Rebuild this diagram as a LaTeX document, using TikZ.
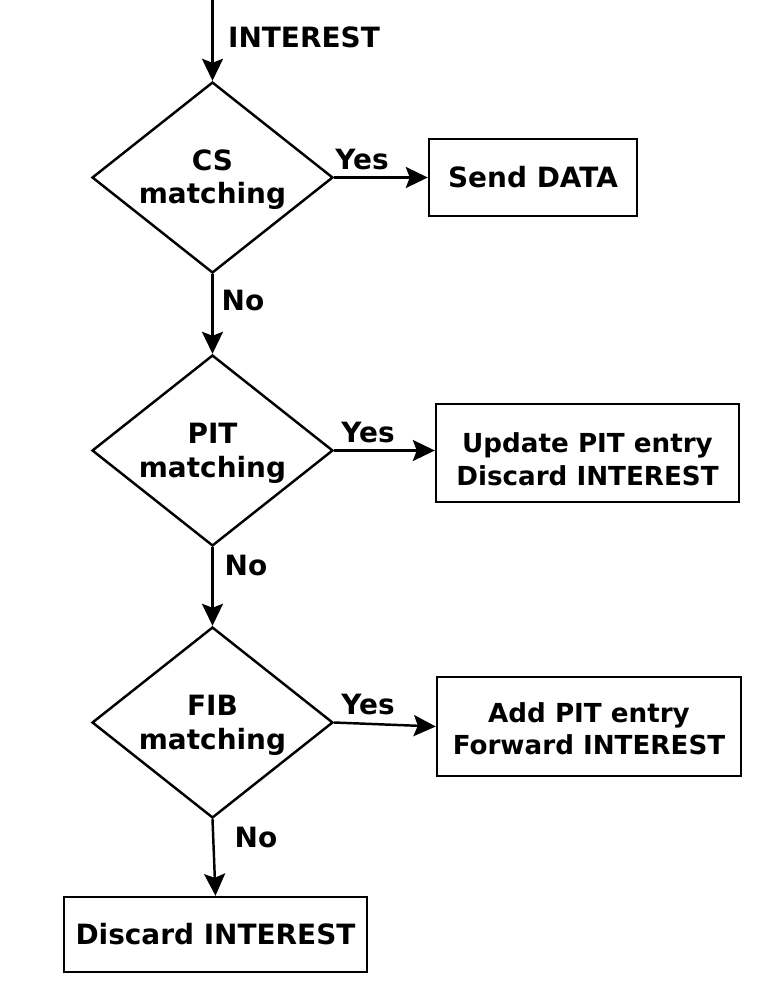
\documentclass[tikz,border=0pt]{standalone}
\usepackage{fontspec}
\setmainfont{DejaVu Sans}
\usepackage{tikz}
\usetikzlibrary{shapes.geometric,arrows.meta,positioning,calc}

\begin{document}
\begin{tikzpicture}[x=0.02cm,y=-0.02cm,
	every node/.style={font=\fontsize{15.9}{19}\selectfont\bfseries},
	decision/.style={diamond,draw,line width=1.4pt,inner sep=0pt,aspect=1.3,minimum width=4.82cm,minimum height=3.82cm,align=center,text height=1.1cm,text depth=0.04cm},
	action/.style={rectangle,draw,line width=1.4pt,inner sep=0pt,align=center},
	twoline/.style={action,font=\fontsize{14.9}{18.5}\selectfont\bfseries,text depth=0.18cm},
	flow/.style={line width=1.4pt,-{Stealth[length=0.44cm,width=0.42cm,inset=0.08cm]}}]
 	\useasboundingbox (0,0) rectangle (760,984);
 	\coordinate (in) at (212.5,0);
 	\node[decision] (cs) at (212.5,177.5) {CS\\matching};
 	\node[decision] (pit) at (212.5,450.5) {PIT\\matching};
 	\node[decision] (fib) at (212.5,722.5) {FIB\\matching};
 	\node[action,minimum width=4.16cm,minimum height=1.54cm] (send) at (533,177.5) {Send DATA};
 	\node[twoline,text height=1.48cm,minimum width=6.06cm,minimum height=1.96cm] (upd) at (587.5,453) {Update PIT entry\\Discard INTEREST};
 	\node[twoline,text height=1.3cm,minimum width=6.08cm,minimum height=1.98cm] (add) at (589,726.5) {Add PIT entry\\Forward INTEREST};
 	\node[action,minimum width=6.06cm,minimum height=1.5cm] (drop) at (215.5,934.5) {Discard INTEREST};
 	\draw[flow] (in) -- (cs.north);
 	\draw[flow] (cs.east) -- (send.west);
 	\draw[flow] (pit.east) -- (pit.east -| upd.west);
 	\draw[flow] (fib.east) -- (add.west);
 	\draw[flow] (cs.south) -- (pit.north);
 	\draw[flow] (pit.south) -- (fib.north);
 	\draw[flow] (fib.south) -- (drop.north);
 		\node at (304,37) {INTEREST};
 		\node at (362,160) {Yes};
 		\node at (368,433) {Yes};
 		\node at (368,705) {Yes};
 		\node at (243,301) {No};
 		\node at (246,566) {No};
 		\node at (256,838) {No};
 \end{tikzpicture}
\end{document}
